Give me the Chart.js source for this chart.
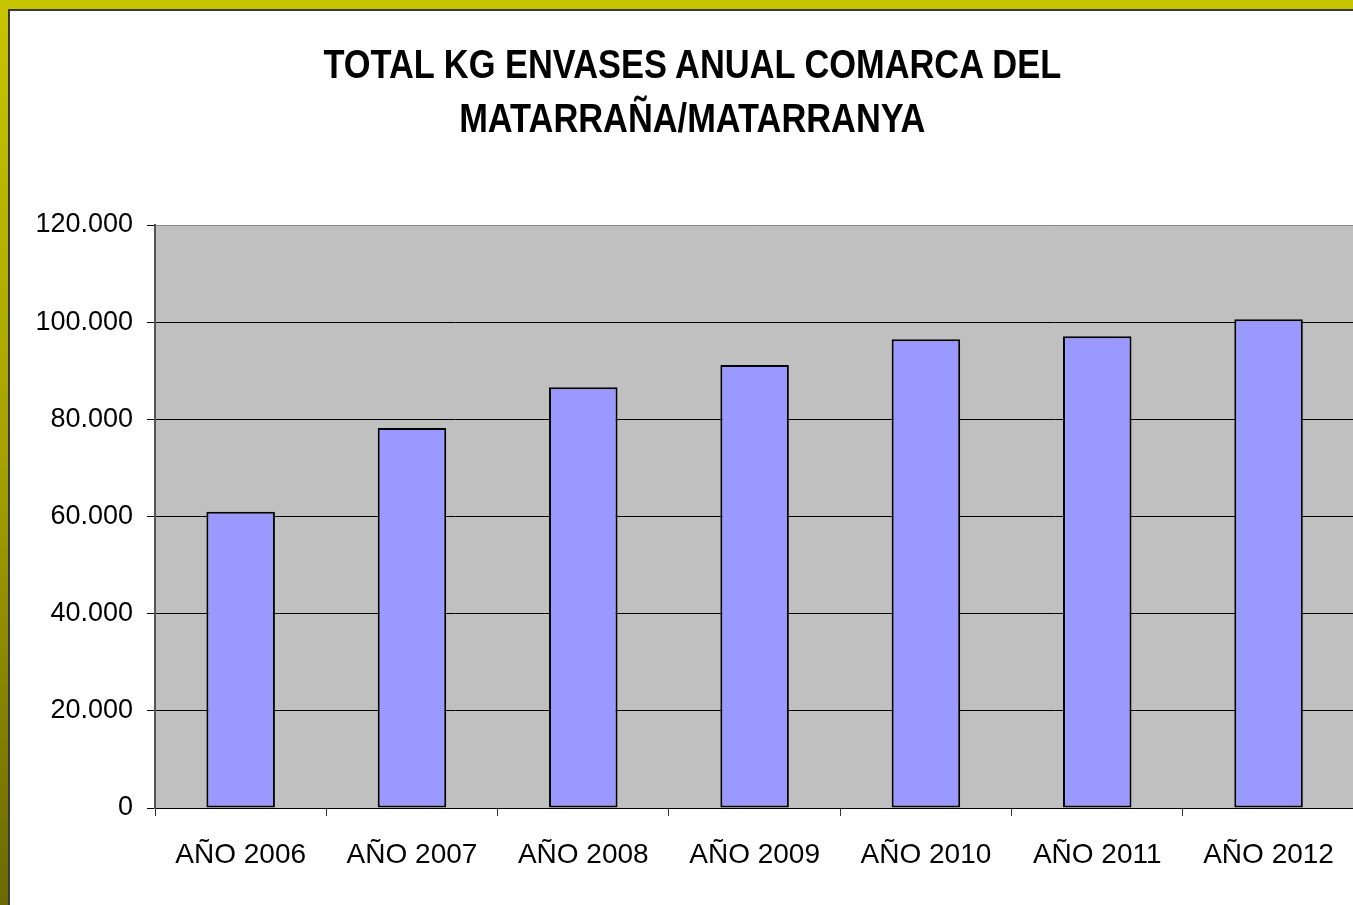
<!DOCTYPE html>
<html>
<head>
<meta charset="utf-8">
<script src="https://cdn.jsdelivr.net/npm/chart.js"></script>
<style>
    html, body { margin: 0; padding: 0; width: 1353px; height: 905px; overflow: hidden; }
    body { background: linear-gradient(to bottom, #c8c400 0%, #a5a200 50%, #6c6a00 100%); position: relative; }
    #frame {
        position: absolute; left: 8px; top: 9px; width: 1400px; height: 1000px;
        border-left: 2px solid #3a3a3a; border-top: 2px solid #3a3a3a; background: #fff;
    }
    #wrap { position: absolute; left: 0; top: 0; width: 1346px; height: 894px; }
    #titulo {
        position: absolute; left: 0; top: 26px; width: 1364px; text-align: center;
        font: bold 40px "Liberation Sans", Arial, sans-serif; line-height: 54px; color: #000;
        transform: scaleX(0.86); transform-origin: 684px 0;
    }
</style>
</head>
<body>
<div id="frame">
    <div id="wrap"><canvas id="envasesChart"></canvas></div>
    <div id="titulo">TOTAL KG ENVASES ANUAL COMARCA DEL<br>MATARRAÑA/MATARRANYA</div>
</div>
<script>
// datos
const years = ['AÑO 2006', 'AÑO 2007', 'AÑO 2008', 'AÑO 2009', 'AÑO 2010', 'AÑO 2011', 'AÑO 2012'];
const kgEnvases = [61000, 78200, 86600, 91200, 96500, 97100, 100600];
const yTicks = [0, 20000, 40000, 60000, 80000, 100000, 120000];

const formatMiles = v => String(v).replace(/\B(?=(\d{3})+(?!\d))/g, '.');

// fondo gris de la zona de trazado
const plotBg = {
    id: 'plotBg',
    beforeDraw(chart) {
        const { ctx, chartArea: a } = chart;
        ctx.save();
        ctx.fillStyle = '#c0c0c0';
        ctx.fillRect(a.left, a.top, a.right - a.left, a.bottom - a.top);
        ctx.restore();
    }
};

const ctx = document.getElementById('envasesChart').getContext('2d');
new Chart(ctx, {
    type: 'bar',
    data: {
        labels: years,
        datasets: [{
            label: 'Total kg envases',
            data: kgEnvases,
            backgroundColor: '#9999ff',
            borderColor: '#000',
            borderWidth: 2,
            borderSkipped: false,
            barPercentage: 0.4,
            categoryPercentage: 1
        }]
    },
    options: {
        responsive: true,
        maintainAspectRatio: false,
        animation: false,
        layout: { padding: { right: 1, left: 0, top: 214, bottom: 0 } },
        plugins: {
            legend: { display: false },
            tooltip: { enabled: false },
            title: { display: false }
        },
        scales: {
            x: {
                offset: true,
                grid: { offset: true, drawOnChartArea: false, drawTicks: true, tickLength: 8, color: '#333' },
                border: { color: '#000', width: 1 },
                ticks: {
                    color: '#000',
                    padding: 22,
                    maxRotation: 0,
                    font: { family: '"Liberation Sans", Arial', size: 28 }
                },
                afterFit(scale) { scale.height = 97; }
            },
            y: {
                min: 0,
                max: 120000,
                afterBuildTicks(scale) { scale.ticks = yTicks.map(v => ({ value: v })); },
                grid: {
                    color: c => (c.tick && c.tick.value === 120000) ? '#8a8a8a' : '#000',
                    tickColor: '#000',
                    tickLength: 8,
                    lineWidth: 1
                },
                border: { color: '#555', width: 2 },
                ticks: {
                    color: '#000',
                    padding: 14,
                    callback: v => formatMiles(v),
                    font: { family: '"Liberation Sans", Arial', size: 27 }
                },
                afterFit(scale) { scale.width = 145; }
            }
        }
    },
    plugins: [plotBg]
});
</script>
</body>
</html>
